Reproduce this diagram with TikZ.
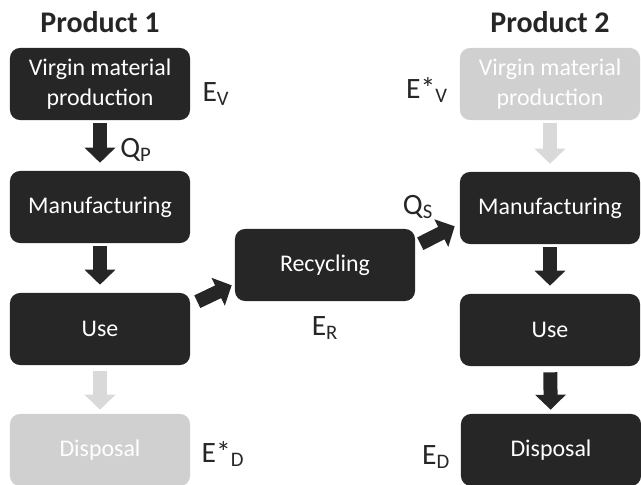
\documentclass[tikz,border=0pt]{standalone}
\usepackage{fontspec}
\setmainfont{Carlito}
\usetikzlibrary{arrows.meta,calc}
\definecolor{boxdark}{HTML}{262626}
\definecolor{boxpale}{HTML}{D0D0D0}
\definecolor{arrowpale}{HTML}{D9D9D9}

\begin{document}
\begin{tikzpicture}[x=0.025cm,y=-0.025cm,
    stage/.style={rectangle,rounded corners=0.25cm,fill=boxdark,text=white,
        minimum width=4.5cm,minimum height=1.8cm,inner sep=0pt,align=center,
        font=\fontsize{17}{21.5}\selectfont},
    stagepale/.style={stage,fill=boxpale},
    flow/.style={line width=0.35cm,boxdark,
        -{Triangle[width=0.75cm,length=0.375cm]}},
    flowpale/.style={flow,arrowpale},
    quantity/.style={font=\fontsize{21}{25}\selectfont,inner sep=0pt,text=boxdark},
    heading/.style={font=\fontsize{21.3}{25}\selectfont\bfseries,text=boxdark}]
            \useasboundingbox (0,0) rectangle (641,485);
            \node[heading] (titleA) at (100,22) {Product 1};
            \node[heading] (titleB) at (550,22) {Product 2};

            \node[stage] (vmA) at (100,84) {Virgin material\\production};
            \node[stage] (manA) at (100,207) {Manufacturing};
            \node[stage] (useA) at (100,329) {Use};
            \node[stagepale] (dispA) at (100,450) {Disposal};
            \node[stage] (recyc) at (325,265) {Recycling};
            \node[stagepale] (vmB) at (550,84) {Virgin material\\production};
            \node[stage] (manB) at (550,208) {Manufacturing};
            \node[stage] (useB) at (550,330) {Use};
            \node[stage] (dispB) at (551,450) {Disposal};

            \draw[flow,shorten <=0.075cm,shorten >=0.2cm] (vmA) -- (manA);
            \draw[flow,shorten <=0.075cm,shorten >=0.2cm] (manA) -- (useA);
            \draw[flowpale,shorten <=0.15cm,shorten >=0.1cm] (useA) -- (dispA);
            \draw[flow] ($(useA.north east)+(7,9)$) -- ($(recyc.south west)+(-3,-16)$);
            \draw[flow] ($(recyc.north east)+(5,15)$) -- ($(manB.south west)+(-5,-18)$);
            \draw[flowpale,shorten <=0.075cm,shorten >=0.2cm] (vmB) -- (manB);
            \draw[flow,shorten <=0.075cm,shorten >=0.2cm] (manB) -- (useB);
            \draw[flow,shorten <=0.15cm,shorten >=0.1cm] (useB) -- (dispB);

            \node[quantity] (eV) at (216,94) {E\textsubscript{V}};
            \node[quantity] (qP) at (136,150) {Q\textsubscript{P}};
            \node[quantity] (eVstar) at (427,90) {E*\textsubscript{V}};
            \node[quantity] (qS) at (418,207) {Q\textsubscript{S}};
            \node[quantity] (eR) at (325,328) {E\textsubscript{R}};
            \node[quantity] (eDstar) at (223,454) {E*\textsubscript{D}};
            \node[quantity] (eD) at (436,457) {E\textsubscript{D}};
        \end{tikzpicture}
\end{document}
